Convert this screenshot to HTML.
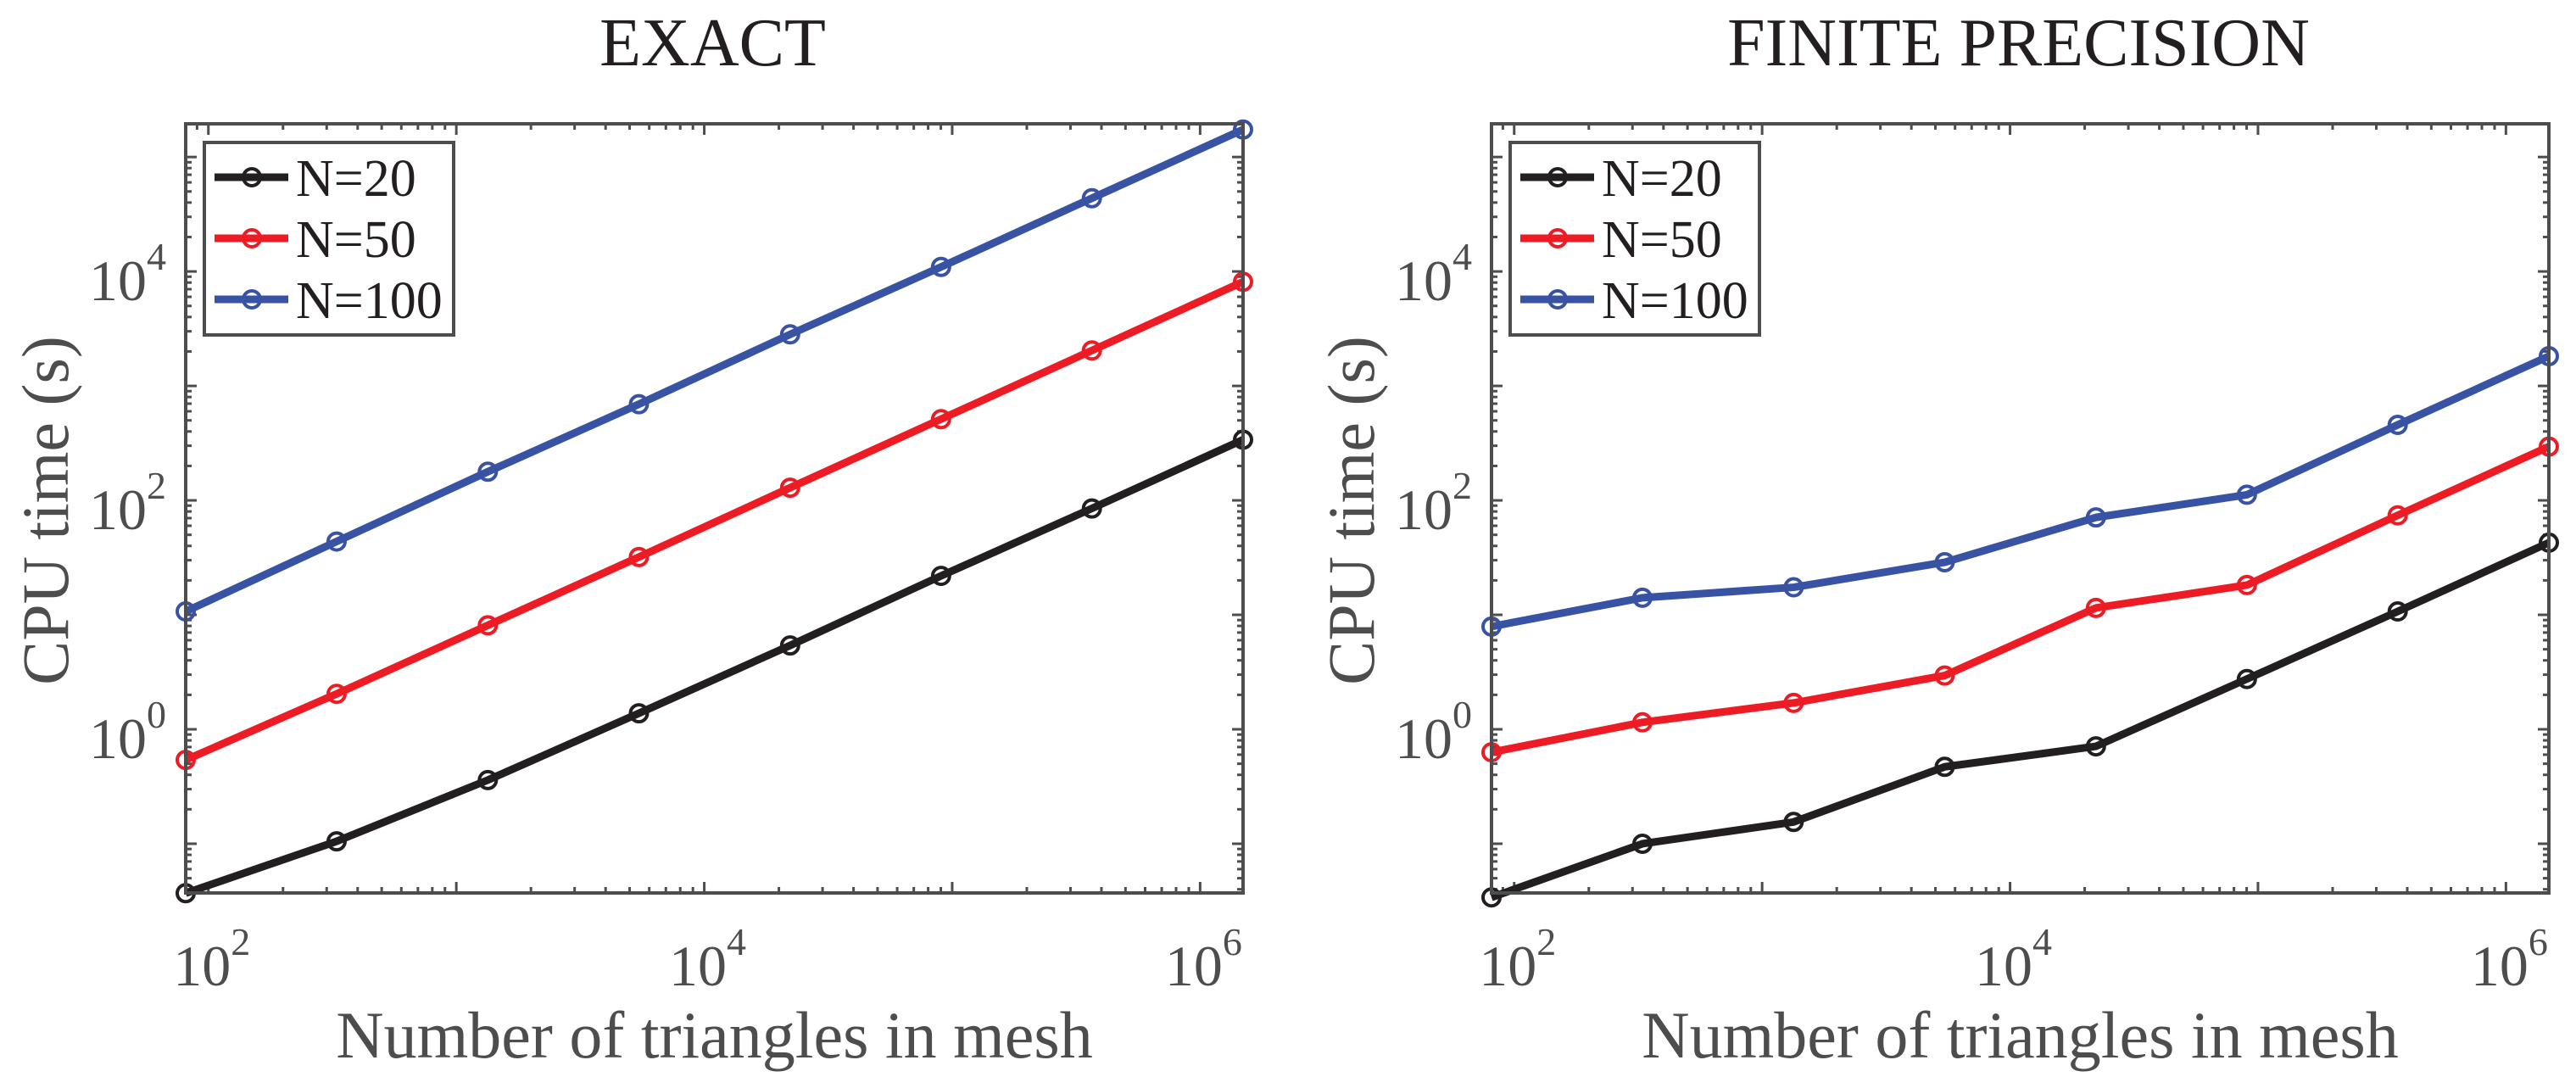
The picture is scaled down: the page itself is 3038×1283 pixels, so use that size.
<!DOCTYPE html>
<html><head><meta charset="utf-8"><style>
html,body{margin:0;padding:0;background:#fff}
svg{display:block}
text{font-family:"Liberation Serif",serif}
</style></head><body>
<svg id="chart" width="3038" height="1283" viewBox="0 0 3038 1283" xmlns="http://www.w3.org/2000/svg"></svg>
<script>
const xTriangles = [81, 329, 1340, 5450, 22200, 90200, 366000, 1490000];
const seriesNames = ["N=20", "N=50", "N=100"];
const exact20  = [0.037, 0.105, 0.36, 1.38, 5.4, 21.9, 85, 339];
const exact50  = [0.54, 2.04, 8.1, 32, 129, 513, 2040, 8130];
const exact100 = [10.7, 43.7, 178, 692, 2820, 10960, 43650, 173800];
const finite20  = [0.034, 0.1, 0.155, 0.47, 0.71, 2.75, 10.7, 42.7];
const finite50  = [0.63, 1.15, 1.7, 2.95, 11.5, 18.2, 74, 295];
const finite100 = [7.9, 14.1, 17.4, 28.8, 71, 112, 457, 1820];
const xTickExps = [2, 4, 6];
const yTickExps = [0, 2, 4];
const colors = ["#231f20", "#ed1c24", "#3953a4"];

const NS = "http://www.w3.org/2000/svg";
const svg = document.getElementById("chart");
function mk(tag, attrs, parent) {
  const e = document.createElementNS(NS, tag);
  for (const k in attrs) e.setAttribute(k, attrs[k]);
  (parent || svg).appendChild(e);
  return e;
}
const GRAY = "#4d4d4d";
const xMinL = Math.log10(81), xMaxL = Math.log10(1490000);
const yMinL = -1.43, yMaxL = 5.29;

function drawPanel(px, key, title, series) {
  const L = px, R = px + 1247, T = 146, B = 1053;
  const g = mk("g", {});
  
  
  const xs = v => L + (Math.log10(v) - xMinL) / (xMaxL - xMinL) * (R - L);
  const ys = v => B - (Math.log10(v) - yMinL) / (yMaxL - yMinL) * (B - T);
  const t = mk("text", {x: (L + R) / 2 - 2, y: 77, "text-anchor": "middle", "font-size": 80, fill: "#231f20"}, g);
  t.textContent = title;
  
  
  const tk = mk("g", {stroke: GRAY, "stroke-width": 3}, g);
  
  
  for (let e = 1; e <= 6; e++) for (let k = 1; k <= 9; k++) {
    const v = k * Math.pow(10, e); const lv = Math.log10(v);
    if (lv < xMinL || lv > xMaxL) continue;
    const x = xs(v), len = k === 1 ? 13 : 7;
    mk("line", {x1: x, x2: x, y1: B, y2: B - len}, tk);
    mk("line", {x1: x, x2: x, y1: T, y2: T + len}, tk);
  }
  for (let e = -2; e <= 5; e++) for (let k = 1; k <= 9; k++) {
    const v = k * Math.pow(10, e); const lv = Math.log10(v);
    if (lv < yMinL || lv > yMaxL) continue;
    const y = ys(v), len = k === 1 ? 13 : 7;
    mk("line", {x1: L, x2: L + len, y1: y, y2: y}, tk);
    mk("line", {x1: R, x2: R - len, y1: y, y2: y}, tk);
  }
  xTickExps.forEach(e => {
    const x = xs(Math.pow(10, e));
    const tx = mk("text", {x: x + 4, y: 1162, "text-anchor": "middle", "font-size": 68, fill: GRAY}, g);
    
    
    tx.innerHTML = '10<tspan dy="-36" font-size="46">' + e + '</tspan>';
  });
  yTickExps.forEach(e => {
    const y = ys(Math.pow(10, e));
    const tx = mk("text", {x: L - 23, y: y + 34, "text-anchor": "end", "font-size": 68, fill: GRAY}, g);
    
    
    tx.innerHTML = '10<tspan dy="-36" font-size="46">' + e + '</tspan>';
  });
  const xl = mk("text", {x: (L + R) / 2, y: 1247, "text-anchor": "middle", "font-size": 78, fill: GRAY}, g);
  xl.textContent = "Number of triangles in mesh";
  
  
  const yl = mk("text", {x: 0, y: 0, "text-anchor": "middle", "font-size": 78, fill: GRAY, transform: `translate(${L - 139},602) rotate(-90)`}, g);
  yl.textContent = "CPU time (s)";
  
  
  series.forEach((vals, i) => {
    const sg = mk("g", {}, g);
    
    
    const pts = vals.map((v, j) => xs(xTriangles[j]) + "," + ys(v)).join(" ");
    mk("polyline", {points: pts, fill: "none", stroke: colors[i], "stroke-width": 9, "stroke-linejoin": "round"}, sg);
    vals.forEach((v, j) => {
      const c = mk("circle", {cx: xs(xTriangles[j]), cy: ys(v), r: 10, fill: "none", stroke: colors[i], "stroke-width": 4}, sg);
      
      
    });
  });
  const box = mk("rect", {x: L, y: T, width: R - L, height: B - T, fill: "none", stroke: GRAY, "stroke-width": 4}, g);
  
  
  const lg = mk("g", {}, g);
  
  
  mk("rect", {x: L + 22, y: T + 22, width: 294, height: 227, fill: "#fff", stroke: GRAY, "stroke-width": 4}, lg);
  seriesNames.forEach((n, i) => {
    const y = T + 63 + i * 72;
    const le = mk("g", {}, lg);
    
    
    mk("line", {x1: L + 34, x2: L + 121, y1: y, y2: y, stroke: colors[i], "stroke-width": 9}, le);
    mk("circle", {cx: L + 78, cy: y, r: 10, fill: "none", stroke: colors[i], "stroke-width": 4}, le);
    const tt = mk("text", {x: L + 130, y: y + 22, "font-size": 62, fill: "#231f20"}, le);
    tt.textContent = n;
  });
}
drawPanel(219, "exact", "EXACT", [exact20, exact50, exact100]);
drawPanel(1759, "finite", "FINITE PRECISION", [finite20, finite50, finite100]);
</script>
</body></html>
